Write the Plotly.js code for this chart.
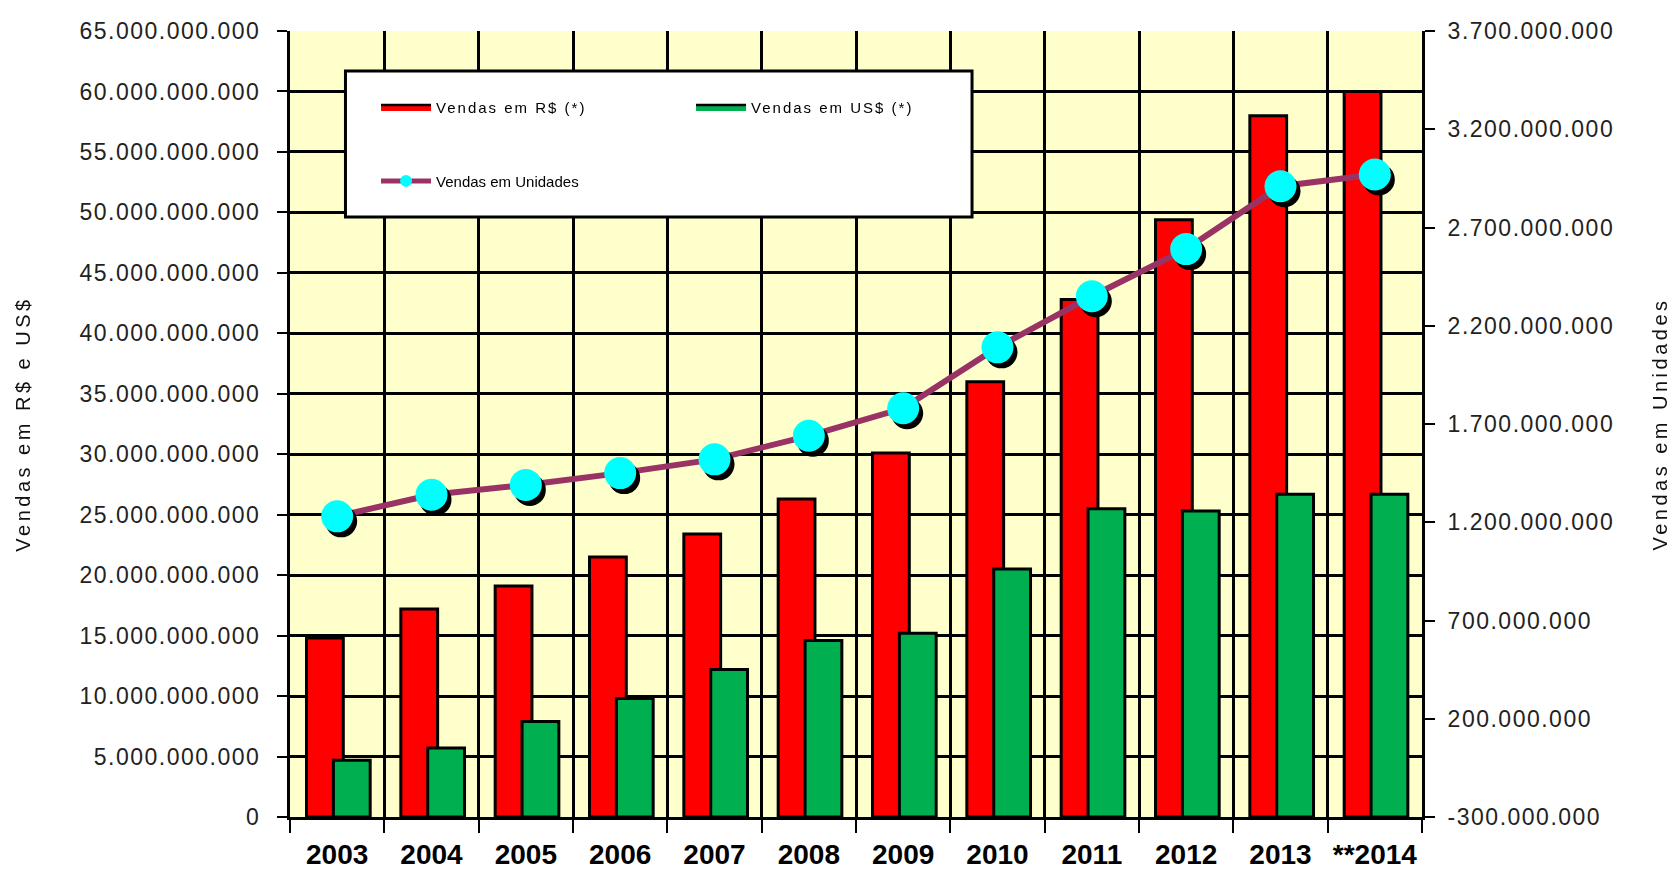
<!DOCTYPE html>
<html>
<head>
<meta charset="utf-8">
<script src="https://cdn.plot.ly/plotly-3.0.1.min.js"></script>
<style>
  html, body { margin: 0; padding: 0; background: #ffffff; }
  #chart { width: 1677px; height: 871px; }
  .ytick text, .y2tick text { letter-spacing: 1.5px; }
  .g-ytitle text, .g-y2title text { letter-spacing: 3.5px; }
  .legendtext { letter-spacing: 2px; }
  .scatterlayer .points { filter: drop-shadow(4px 5px 0px #000000); }
</style>
</head>
<body>
<div id="chart"></div>
<script>
// ---- data ----
const years = ['2003', '2004', '2005', '2006', '2007', '2008', '2009', '2010', '2011', '2012', '2013', '**2014'];
const salesBRL = [14800000000, 17200000000, 19100000000, 21500000000, 23400000000, 26300000000,
                  30100000000, 36000000000, 42800000000, 49400000000, 58000000000, 60000000000];
const salesUSD = [4700000000, 5700000000, 7900000000, 9800000000, 12200000000, 14600000000,
                  15200000000, 20500000000, 25500000000, 25300000000, 26700000000, 26700000000];
const salesUnits = [1230000000, 1340000000, 1390000000, 1450000000, 1520000000, 1640000000,
                    1780000000, 2090000000, 2350000000, 2590000000, 2910000000, 2970000000];

const leftTickVals = [0, 5000000000, 10000000000, 15000000000, 20000000000, 25000000000, 30000000000,
                      35000000000, 40000000000, 45000000000, 50000000000, 55000000000, 60000000000, 65000000000];
const leftTickText = ['0', '5.000.000.000', '10.000.000.000', '15.000.000.000', '20.000.000.000',
                      '25.000.000.000', '30.000.000.000', '35.000.000.000', '40.000.000.000',
                      '45.000.000.000', '50.000.000.000', '55.000.000.000', '60.000.000.000', '65.000.000.000'];
const rightTickVals = [-300000000, 200000000, 700000000, 1200000000, 1700000000, 2200000000, 2700000000, 3200000000, 3700000000];
const rightTickText = ['-300.000.000', '200.000.000', '700.000.000', '1.200.000.000', '1.700.000.000',
                       '2.200.000.000', '2.700.000.000', '3.200.000.000', '3.700.000.000'];

const seriesNames = ['Vendas em R$ (*)', 'Vendas em US$ (*)', 'Vendas em Unidades'];

// ---- traces ----
const traces = [
  {
    type: 'bar', x: years, y: salesBRL, name: seriesNames[0], showlegend: false,
    width: 0.39, offset: -0.325,
    marker: { color: '#FF0000', line: { color: '#000000', width: 3 } },
    xaxis: 'x', yaxis: 'y', hoverinfo: 'skip'
  },
  {
    type: 'bar', x: years, y: salesUSD, name: seriesNames[1], showlegend: false,
    width: 0.39, offset: -0.04,
    marker: { color: '#00B050', line: { color: '#000000', width: 3 } },
    xaxis: 'x', yaxis: 'y', hoverinfo: 'skip'
  },
  {
    type: 'scatter', mode: 'lines+markers', x: years, y: salesUnits, name: seriesNames[2],
    line: { color: '#993366', width: 6 },
    marker: { color: '#00FFFF', size: 32, line: { width: 0 } },
    xaxis: 'x', yaxis: 'y2', legend: 'legend2', hoverinfo: 'skip'
  },
  // legend-only entries (no marks drawn) to get wide bar swatches
  {
    type: 'scatter', mode: 'lines', x: [null], y: [null], name: seriesNames[0],
    fill: 'toself', fillcolor: '#FF0000', line: { color: '#000000', width: 2.5 },
    xaxis: 'x', yaxis: 'y', legend: 'legend', hoverinfo: 'skip'
  },
  {
    type: 'scatter', mode: 'lines', x: [null], y: [null], name: seriesNames[1],
    fill: 'toself', fillcolor: '#00B050', line: { color: '#000000', width: 2.5 },
    xaxis: 'x', yaxis: 'y', legend: 'legend', hoverinfo: 'skip'
  }
];

const FONT = 'Liberation Sans, Arial, Helvetica, sans-serif';

const layout = {
  width: 1677, height: 871,
  margin: { l: 290, r: 255, t: 31, b: 54, pad: 0 },
  paper_bgcolor: '#FFFFFF',
  plot_bgcolor: '#FFFFCC',
  barmode: 'overlay',
  font: { family: FONT, color: '#000000' },
  xaxis: {
    type: 'category', range: [-0.5, 11.5], tickson: 'boundaries',
    showgrid: true, gridcolor: '#000000', gridwidth: 3,
    showline: true, linecolor: '#000000', linewidth: 3,
    ticks: 'outside', ticklen: 13, tickwidth: 2, tickcolor: '#000000',
    tickangle: 0, ticklabelstandoff: 10,
    tickfont: { family: FONT, size: 28, weight: 'bold', color: '#000000' },
    zeroline: false
  },
  yaxis: {
    range: [0, 65000000000], tickvals: leftTickVals, ticktext: leftTickText,
    showgrid: true, gridcolor: '#000000', gridwidth: 3,
    showline: true, linecolor: '#000000', linewidth: 3,
    ticks: 'outside', ticklen: 10, tickwidth: 2, tickcolor: '#000000',
    ticklabelstandoff: 12,
    tickfont: { family: FONT, size: 23, color: '#222222' },
    zeroline: false,
    title: { text: 'Vendas em R$ e US$', font: { family: FONT, size: 20, color: '#111111' }, standoff: 44 }
  },
  yaxis2: {
    overlaying: 'y', side: 'right', anchor: 'x',
    range: [-300000000, 3700000000], tickvals: rightTickVals, ticktext: rightTickText,
    showgrid: false,
    showline: true, linecolor: '#000000', linewidth: 3,
    ticks: 'outside', ticklen: 10, tickwidth: 2, tickcolor: '#000000',
    ticklabelstandoff: 8,
    tickfont: { family: FONT, size: 23, color: '#222222' },
    zeroline: false,
    title: { text: 'Vendas em Unidades', font: { family: FONT, size: 20, color: '#111111' }, standoff: 40 }
  },
  legend: {
    orientation: 'h', x: 0.076, xanchor: 'left', y: 0.903, yanchor: 'middle',
    bgcolor: 'rgba(0,0,0,0)', borderwidth: 0,
    font: { family: FONT, size: 15, color: '#000000' },
    entrywidth: 250, itemwidth: 50, traceorder: 'normal'
  },
  legend2: {
    orientation: 'h', x: 0.076, xanchor: 'left', y: 0.809, yanchor: 'middle',
    bgcolor: 'rgba(0,0,0,0)', borderwidth: 0,
    font: { family: FONT, size: 15, color: '#000000' },
    itemwidth: 50, itemsizing: 'constant'
  },
  shapes: [
    {
      type: 'rect', xref: 'paper', yref: 'paper',
      x0: 0.049, x1: 0.6025, y0: 0.7634, y1: 0.949,
      fillcolor: '#FFFFFF', line: { color: '#000000', width: 3 }, layer: 'above'
    }
  ]
};

Plotly.newPlot('chart', traces, layout, { staticPlot: true, displayModeBar: false });
</script>
</body>
</html>
